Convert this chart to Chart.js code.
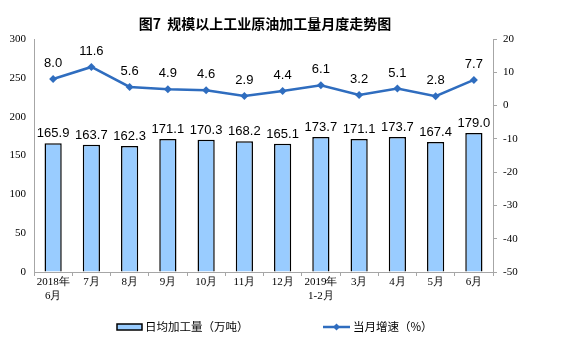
<!DOCTYPE html>
<html><head><meta charset="utf-8">
<script src="https://cdn.jsdelivr.net/npm/chart.js@4/dist/chart.umd.min.js"></script>
<style>html,body{margin:0;padding:0;background:#fff}#wrap{width:561px;height:357px;position:relative}</style>
</head><body><div id="wrap"><canvas id="c" width="561" height="357"></canvas></div>
<script>
const categories = [["2018年","6月"],"7月","8月","9月","10月","11月","12月",["2019年","1-2月"],"3月","4月","5月","6月"];
const dailyOutput = [165.9,163.7,162.3,171.1,170.3,168.2,165.1,173.7,171.1,173.7,167.4,179.0];
const growthRate = [8.0,11.6,5.6,4.9,4.6,2.9,4.4,6.1,3.2,5.1,2.8,7.7];
const leftTicks = [0,50,100,150,200,250,300];
const rightTicks = [-50,-40,-30,-20,-10,0,10,20];
const titleText = "图7  规模以上工业原油加工量月度走势图";
const barLegend = "日均加工量（万吨）";
const lineLegend = "当月增速（%）";

const lineColor = "#2F6DBF";
const barColor = "#99CCFF";
const axisColor = "#A6A6A6";
const cjk = "'Noto Sans CJK SC', sans-serif";
const serif = "'Liberation Serif', 'DejaVu Serif', serif";

const extras = {
  id: 'extras',
  afterDraw(chart) {
    const ctx = chart.ctx;
    ctx.save();
    // title
    ctx.fillStyle = '#000';
    ctx.font = "bold 14px " + cjk;
    ctx.textAlign = 'center';
    ctx.textBaseline = 'middle';
    ctx.fillText(titleText, 265, 24);
    // data labels
    ctx.font = "13px 'Liberation Sans', Arial, sans-serif";
    ctx.textBaseline = 'alphabetic';
    const bm = chart.getDatasetMeta(0);
    bm.data.forEach((el, i) => {
      ctx.fillText(dailyOutput[i].toFixed(1), el.x, el.y - 6);
    });
    const lm = chart.getDatasetMeta(1);
    lm.data.forEach((el, i) => {
      ctx.fillText(growthRate[i].toFixed(1), el.x, el.y - 12);
    });
    // legend
    const ly = 327;
    ctx.fillStyle = barColor;
    ctx.strokeStyle = '#000';
    ctx.lineWidth = 1.5;
    ctx.fillRect(117, ly - 3, 25, 6);
    ctx.strokeRect(117, ly - 3, 25, 6);
    ctx.fillStyle = '#000';
    ctx.font = "11.5px " + cjk;
    ctx.textAlign = 'left';
    ctx.textBaseline = 'middle';
    ctx.fillText(barLegend, 145, ly);
    ctx.strokeStyle = lineColor;
    ctx.lineWidth = 2.5;
    ctx.beginPath(); ctx.moveTo(323, ly); ctx.lineTo(350, ly); ctx.stroke();
    ctx.fillStyle = lineColor;
    ctx.beginPath(); ctx.moveTo(336.5, ly - 3.5); ctx.lineTo(340, ly); ctx.lineTo(336.5, ly + 3.5); ctx.lineTo(333, ly); ctx.closePath(); ctx.fill();
    ctx.fillStyle = '#000';
    ctx.fillText(lineLegend, 353, ly);
    ctx.restore();
  }
};

new Chart(document.getElementById('c'), {
  data: {
    labels: categories,
    datasets: [
      { type: 'bar', data: dailyOutput, yAxisID: 'y', backgroundColor: barColor, borderColor: '#000', borderWidth: 1.5, barPercentage: 0.45, categoryPercentage: 1.0, order: 2 },
      { type: 'line', data: growthRate, yAxisID: 'y1', borderColor: lineColor, backgroundColor: lineColor, borderWidth: 2.5, pointStyle: 'rectRot', pointRadius: 4, pointBorderWidth: 0, tension: 0, order: 1 }
    ]
  },
  options: {
    responsive: false,
    animation: false,
    events: [],
    layout: { padding: { top: 39, left: 0, right: 0, bottom: 0 } },
    plugins: { legend: { display: false }, tooltip: { enabled: false }, title: { display: false } },
    scales: {
      x: {
        offset: true,
        grid: { display: true, offset: true, drawOnChartArea: false, drawTicks: true, tickLength: 4, color: axisColor },
        border: { display: true, color: axisColor },
        ticks: { color: '#000', font: { family: serif, size: 11 }, maxRotation: 0, autoSkip: false, padding: 0 },
        afterFit(s) { s.height = 85; }
      },
      y: {
        position: 'left', min: 0, max: 300,
        afterBuildTicks(s) { s.ticks = leftTicks.map(v => ({ value: v })); },
        grid: { display: true, drawOnChartArea: false, drawTicks: false, color: axisColor },
        border: { display: true, color: axisColor },
        ticks: { color: '#000', font: { family: serif, size: 11 }, padding: 8 },
        afterFit(s) { s.width = 34; }
      },
      y1: {
        position: 'right', min: -50, max: 20,
        afterBuildTicks(s) { s.ticks = rightTicks.map(v => ({ value: v })); },
        grid: { display: true, drawOnChartArea: false, drawTicks: true, tickLength: 4, color: axisColor },
        border: { display: true, color: axisColor },
        ticks: { color: '#000', font: { family: serif, size: 11 }, padding: 6 },
        afterFit(s) { s.width = 68; }
      }
    }
  },
  plugins: [extras]
});
</script></body></html>
